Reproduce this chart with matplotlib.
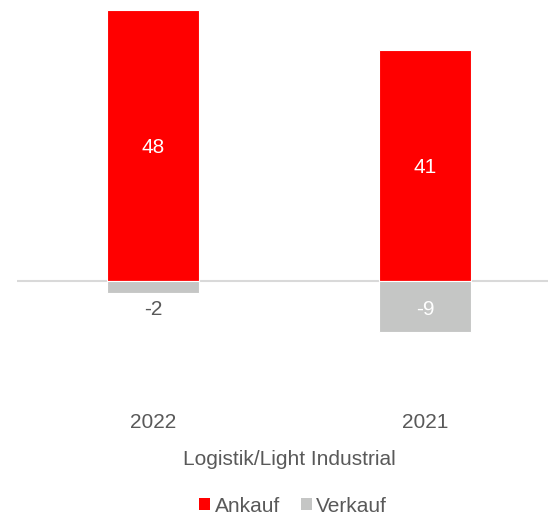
import matplotlib.pyplot as plt
from matplotlib.patches import Patch

plt.rcParams['font.family'] = ['Liberation Sans', 'DejaVu Sans']

years = ['2022', '2021']
ankauf = [48, 41]
verkauf = [-2, -9]
group_label = 'Logistik/Light Industrial'
series_names = ['Ankauf', 'Verkauf']

red = '#ff0000'
grey = '#c5c6c5'
txt = '#595959'
fs = 15

fig = plt.figure(figsize=(5.48, 5.15), dpi=100)
ax = fig.add_axes([17 / 548, 120.4 / 515, 544 / 548, 384.6 / 515])

x = range(len(years))
w = 0.34
b1 = ax.bar(x, ankauf, width=w, color=red, edgecolor='white', linewidth=0.8, zorder=2)
b2 = ax.bar(x, verkauf, width=w, color=grey, edgecolor='white', linewidth=0.8, zorder=2)
ax.axhline(0, color='#d9d9d9', linewidth=1.5, zorder=1)

# value labels: inside the bar, small bars get the label underneath
for rect, v in zip(list(b1) + list(b2), ankauf + verkauf):
    cx = rect.get_x() + rect.get_width() / 2
    if abs(v) >= 5:
        ax.annotate(str(v), (cx, v / 2), xytext=(0, -1.5), textcoords='offset points',
                    ha='center', va='center', color='white', fontsize=fs, zorder=3)
    else:
        ax.annotate(str(v), (cx, v), xytext=(0, -12), textcoords='offset points',
                    ha='center', va='center', color=txt, fontsize=fs, zorder=3)

ax.set_xlim(-0.5, 1.5)
ax.set_ylim(-20, 48)
ax.set_yticks([])
ax.set_xticks(list(x), years, fontsize=fs, color=txt)
ax.tick_params(axis='x', length=0, pad=13)
for s in ax.spines.values():
    s.set_visible(False)

ax.set_xlabel(group_label, fontsize=fs, color=txt, va='center')
ax.xaxis.set_label_coords(0.5, -0.170)

handles = [Patch(facecolor=red), Patch(facecolor=grey)]
fig.legend(handles, series_names, loc='center', bbox_to_anchor=(293 / 548, 9 / 515),
           ncol=2, frameon=False, fontsize=fs, labelcolor=txt,
           handlelength=0.55, handleheight=0.55, handletextpad=0.2, columnspacing=1.0)

fig.savefig('out.png', dpi=100)
